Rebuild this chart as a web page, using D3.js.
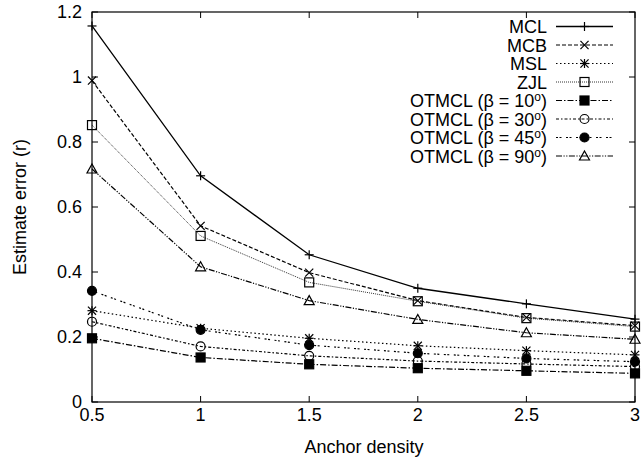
<!DOCTYPE html>
<html><head><meta charset="utf-8">
<script src="https://cdn.jsdelivr.net/npm/d3@7"></script>
<style>body{margin:0;background:#fff}svg{display:block}text{font-family:"Liberation Sans",Arial,sans-serif;font-size:18px;fill:#000}</style>
</head><body><svg id="c" width="642" height="462"></svg>
<script>
const xValues = [0.5, 1, 1.5, 2, 2.5, 3];
const mcl     = [1.157, 0.696, 0.453, 0.350, 0.302, 0.255];
const mcb     = [0.989, 0.542, 0.398, 0.312, 0.260, 0.235];
const msl     = [0.281, 0.227, 0.196, 0.173, 0.158, 0.145];
const zjl     = [0.852, 0.511, 0.368, 0.310, 0.258, 0.232];
const ot10    = [0.196, 0.137, 0.116, 0.104, 0.096, 0.088];
const ot30    = [0.247, 0.171, 0.142, 0.126, 0.117, 0.109];
const ot45    = [0.342, 0.222, 0.175, 0.150, 0.134, 0.124];
const ot90    = [0.717, 0.416, 0.312, 0.254, 0.213, 0.193];
const seriesNames = ["MCL","MCB","MSL","ZJL","OTMCL (β = 10","OTMCL (β = 30","OTMCL (β = 45","OTMCL (β = 90"];
const xTicks = [0.5, 1, 1.5, 2, 2.5, 3];
const yTicks = [0, 0.2, 0.4, 0.6, 0.8, 1, 1.2];

const series = [
  {name: seriesNames[0], vals: mcl,  dash: null,               marker: "plus",   sup: false, width: 1.3},
  {name: seriesNames[1], vals: mcb,  dash: "4,2",              marker: "cross",  sup: false, width: 1.2},
  {name: seriesNames[2], vals: msl,  dash: "1.5,2.5",          marker: "star",   sup: false, width: 1.2},
  {name: seriesNames[3], vals: zjl,  dash: "1,1",              marker: "osq",    sup: false, width: 1.0},
  {name: seriesNames[4], vals: ot10, dash: "6,2,1.5,2",        marker: "fsq",    sup: true,  width: 1.2},
  {name: seriesNames[5], vals: ot30, dash: "3,2,1.5,2",        marker: "ocirc",  sup: true,  width: 1.2},
  {name: seriesNames[6], vals: ot45, dash: "2,1.5,2,4.5",      marker: "fcirc",  sup: true,  width: 1.2},
  {name: seriesNames[7], vals: ot90, dash: "6,1.5,1.2,1.5,1.2,1.5", marker: "otri", sup: true, width: 1.2}
];

const L = 92, R = 635, T = 12, B = 402;
const x = d3.scaleLinear().domain([0.5, 3]).range([L, R]);
const y = d3.scaleLinear().domain([0, 1.2]).range([B, T]);
const svg = d3.select("#c");

// ticks (inward, mirrored)
const tl = 6;
const g = svg.append("g").attr("stroke", "#000").attr("stroke-width", 1);
xTicks.forEach(v => {
  g.append("line").attr("x1", x(v)).attr("x2", x(v)).attr("y1", B).attr("y2", B - tl);
  g.append("line").attr("x1", x(v)).attr("x2", x(v)).attr("y1", T).attr("y2", T + tl);
});
yTicks.forEach(v => {
  g.append("line").attr("y1", y(v)).attr("y2", y(v)).attr("x1", L).attr("x2", L + tl);
  g.append("line").attr("y1", y(v)).attr("y2", y(v)).attr("x1", R).attr("x2", R - tl);
});
xTicks.forEach(v => svg.append("text").attr("x", x(v)).attr("y", 421).attr("text-anchor", "middle").text(v));
yTicks.forEach(v => svg.append("text").attr("x", 82).attr("y", y(v) + 6).attr("text-anchor", "end").text(v));

svg.append("text").attr("x", 364).attr("y", 453).attr("text-anchor", "middle").text("Anchor density");
svg.append("text").attr("transform", "translate(26,207) rotate(-90)").attr("text-anchor", "middle").text("Estimate error (r)");

function marker(sel, type, cx, cy) {
  const s = 4.5;
  const p = sel.append("g").attr("transform", `translate(${cx},${cy})`).attr("stroke", "#000").attr("stroke-width", 1.2);
  if (type === "plus" || type === "star") {
    p.append("line").attr("x1", -s).attr("x2", s).attr("y1", 0).attr("y2", 0);
    p.append("line").attr("y1", -s).attr("y2", s).attr("x1", 0).attr("x2", 0);
  }
  if (type === "cross" || type === "star") {
    const c = s * 0.9;
    p.append("line").attr("x1", -c).attr("x2", c).attr("y1", -c).attr("y2", c);
    p.append("line").attr("x1", -c).attr("x2", c).attr("y1", c).attr("y2", -c);
  }
  if (type === "osq") p.append("rect").attr("x", -4.5).attr("y", -4.5).attr("width", 9).attr("height", 9).attr("fill", "none");
  if (type === "fsq") p.append("rect").attr("x", -4.5).attr("y", -4.5).attr("width", 9).attr("height", 9).attr("fill", "#000");
  if (type === "ocirc") p.append("circle").attr("r", 4.5).attr("fill", "none");
  if (type === "fcirc") p.append("circle").attr("r", 4.5).attr("fill", "#000");
  if (type === "otri") p.append("path").attr("d", "M0,-5L5,4L-5,4Z").attr("fill", "none");
}

const line = d3.line().x((d, i) => x(xValues[i])).y(d => y(d));
series.forEach(s => {
  svg.append("path").datum(s.vals).attr("d", line).attr("fill", "none")
    .attr("stroke", s.marker === "osq" ? "#333" : "#000").attr("stroke-width", s.width)
    .attr("stroke-dasharray", s.dash);
  s.vals.forEach((v, i) => marker(svg, s.marker, x(xValues[i]), y(v)));
});

// border
svg.append("rect").attr("x", L).attr("y", T).attr("width", R - L).attr("height", B - T)
  .attr("fill", "none").attr("stroke", "#000").attr("stroke-width", 1.2);

// legend
series.forEach((s, i) => {
  const cy = 26.5 + i * 18.5;
  const t = svg.append("text").attr("x", 547).attr("y", cy + 6.5).attr("text-anchor", "end");
  t.append("tspan").text(s.name);
  if (s.sup) {
    t.append("tspan").attr("dy", -6).attr("font-size", "12px").text("o");
    t.append("tspan").attr("dy", 6).text(")");
  }
  svg.append("line").attr("x1", 556).attr("x2", 613).attr("y1", cy).attr("y2", cy)
    .attr("stroke", s.marker === "osq" ? "#333" : "#000").attr("stroke-width", s.width).attr("stroke-dasharray", s.dash);
  marker(svg, s.marker, 584.5, cy);
});
</script></body></html>
